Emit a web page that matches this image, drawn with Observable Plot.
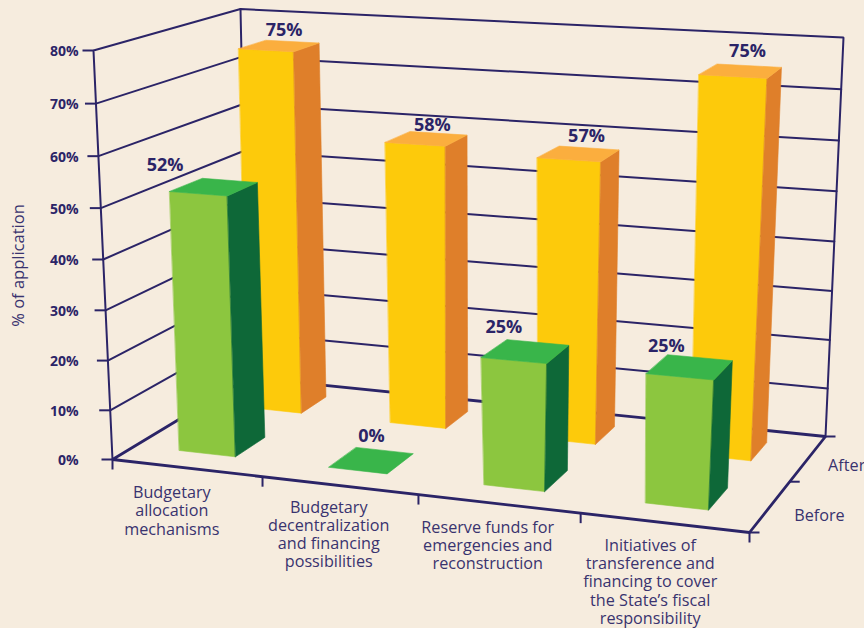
<!DOCTYPE html>
<html><head><meta charset="utf-8">
<script src="https://cdn.jsdelivr.net/npm/d3@7"></script>
<script src="https://cdn.jsdelivr.net/npm/@observablehq/plot@0.6"></script>
<style>html,body{margin:0;padding:0;background:#f6ecde;overflow:hidden}svg{display:block}</style>
</head><body><div id="chart"></div>
<script>
const categories = ["Budgetary\nallocation\nmechanisms","Budgetary\ndecentralization\nand financing\npossibilities","Reserve funds for\nemergencies and\nreconstruction","Initiatives of\ntransference and\nfinancing to cover\nthe State’s fiscal\nresponsibility"];
const before = [52, 0, 25, 25];
const after = [75, 58, 57, 75];
const yTicks = [0,10,20,30,40,50,60,70,80];
const seriesNames = ["Before","After"];

// Layout of the 3D box
const W = 864, H = 628, VMAX = 80, UMAX = 4, WMAX = 2;
const floorQuad = [[112,459],[749,532],[825,436],[248,377]];
const topQuad = [[93,50],[768,95],[843,37],[240,8.5]];
const perspV = 1.045, topWarp = 0.08;
const INK = "#2b2467", TXT = "#39336f";
const palettes = {
  Before:{front:"#8cc63f",side:"#0e6838",top:"#39b54a"},
  After:{front:"#fdca0b",side:"#df7f2a",top:"#fbae3e"}
};
const depth = {Before:[0.31,0.75],After:[1.33,1.74]};
const barU = [0.30,0.68];
const topNudge = {leftFront:3,rightFront:6.5,leftBack:3,rightBack:4};
const nudgeScale = {Before:[1,1,1,0.4],After:[0.6,1,1,0.7]};
const labelOffset = {Before:[[-49,-21.5],[0,-24.5],[-22,-24.5],[-26,-21]],After:[[3,-16],[5,-13.5],[7,-18],[5,-20]]};
const catOffset = [[-15,17],[-11,14],[-11,16],[-14,15]];

function homography(q){
  const [[x0,y0],[x1,y1],[x2,y2],[x3,y3]] = q;
  const dx1=x1-x2,dx2=x3-x2,sx=x0-x1+x2-x3,dy1=y1-y2,dy2=y3-y2,sy=y0-y1+y2-y3;
  const den=dx1*dy2-dx2*dy1,g=(sx*dy2-dx2*sy)/den,h=(dx1*sy-sx*dy1)/den;
  const a=x1-x0+g*x1,b=x3-x0+h*x3,d=y1-y0+g*y1,e=y3-y0+h*y3;
  return (s,t)=>{const k=g*s+h*t+1;return [(a*s+b*t+x0)/k,(d*s+e*t+y0)/k];};
}
const hFloor = homography(floorQuad), hTop = homography(topQuad);
function project(u,v,w){
  const t0=v/VMAX, t=t0/(t0+(1-t0)*perspV);
  const uTop = u + topWarp*Math.sin(Math.PI*u/UMAX)*Math.min(w,1.55)/1.55*(w<WMAX?1:0);
  const p=hFloor(u/UMAX,w/WMAX), q=hTop(uTop/UMAX,w/WMAX);
  return [p[0]+(q[0]-p[0])*t, p[1]+(q[1]-p[1])*t];
}
const pts = (id,list,extra={}) => list.map(([u,v,w])=>{const [x,y]=project(u,v,w);return {id,x,y,...extra};});

// Grid
const grid = yTicks.filter(v=>v>0&&v<VMAX).flatMap(v=>pts("g"+v,[[0,v,0],[0,v,WMAX],[UMAX,v,WMAX]]));
const frame = [
  ...pts("f1",[[0,0,0],[0,VMAX,0],[0,VMAX,WMAX],[UMAX,VMAX,WMAX],[UMAX,0,WMAX]]),
  ...pts("f2",[[0,0,WMAX],[0,VMAX,WMAX]])
];
const floor = pts("b",[[0,0,WMAX],[0,0,0],[UMAX,0,0],[UMAX,0,WMAX],[0,0,WMAX]]);

// Ticks, computed from the projection
const tickRows = [
  ...yTicks.map(v=>{const [x,y]=project(0,v,0);return {x1:x,y1:y,x2:x-11,y2:y};}),
  ...d3.range(0,UMAX+1).map(u=>{const [x,y]=project(u,0,0);return {x1:x,y1:y,x2:x,y2:y+10};}),
  ...[0,1,2].map(w=>{const [x,y]=project(UMAX,0,w);return {x1:x,y1:y,x2:x+10,y2:y};})
];

// Bars
const faces = [], valueLabels = [];
[["After",after],["Before",before]].forEach(([name,vals])=>{
  const [w0,w1]=depth[name], c=palettes[name];
  vals.forEach((val,i)=>{
    const u0=i+barU[0],u1=i+barU[1];
    const corner=(u,v,w)=>{
      const [x,y]=project(u,v,w);
      if(v===0) return [x,y];
      const n = w===w0 ? (u===u0?topNudge.leftFront:topNudge.rightFront) : (u===u0?topNudge.leftBack:topNudge.rightBack);
      return [x+n*nudgeScale[name][i],y];
    };
    const poly=(f,list)=>faces.push(...list.map(([u,v,w])=>{const [x,y]=corner(u,v,w);return {id:`${name}-${i}-${f}`,x,y,color:c[f]};}));
    if(val>0){
      poly("front",[[u0,0,w0],[u1,0,w0],[u1,val,w0],[u0,val,w0]]);
      poly("side",[[u1,0,w0],[u1,0,w1],[u1,val,w1],[u1,val,w0]]);
    }
    poly("top",[[u0,val,w0],[u1,val,w0],[u1,val,w1],[u0,val,w1]]);
    const [cx,cy]=project((u0+u1)/2,val,(w0+w1)/2), [ox,oy]=labelOffset[name][i];
    valueLabels.push({x:cx+ox+(val?4:0),y:cy+oy,text:val+"%"});
  });
});

// Text rows
const catRows = categories.map((text,i)=>{const [x,y]=project(i+0.5,0,0);return {x:x+catOffset[i][0],y:y+catOffset[i][1],text};});
const yRows = yTicks.map(v=>({v,y:project(0,v,0)[1]+1,text:v+"%"}));
const depthRows = seriesNames.map((text,i)=>{const [x,y]=project(UMAX,0,i+0.5);return {x:x+(i?20:24),y:y+(i?7:9),text};});

const FONT = "'Open Sans', sans-serif";
const chart = Plot.plot({
  width:W,height:H,margin:0,
  x:{domain:[0,W],range:[0,W],axis:null},
  y:{domain:[0,H],range:[0,H],axis:null},
  color:{type:"identity"},
  style:{background:"#f6ecde",fontFamily:FONT},
  marks:[
    Plot.line(grid,{x:"x",y:"y",z:"id",stroke:INK,strokeWidth:2,strokeLinejoin:"miter"}),
    Plot.line(frame,{x:"x",y:"y",z:"id",stroke:INK,strokeWidth:2,strokeLinejoin:"miter"}),
    Plot.line(floor,{x:"x",y:"y",z:"id",stroke:INK,strokeWidth:2.8,strokeLinejoin:"miter"}),
    Plot.link(tickRows,{x1:"x1",y1:"y1",x2:"x2",y2:"y2",stroke:INK,strokeWidth:2}),
    Plot.line(faces,{x:"x",y:"y",z:"id",fill:"color",stroke:"color",strokeWidth:0.6,curve:"linear-closed"}),
    Plot.text(valueLabels,{x:"x",y:"y",text:"text",fill:INK,fontSize:18,fontWeight:700}),
    Plot.text(yRows,{x:()=>78,y:"y",text:"text",textAnchor:"end",fill:INK,fontSize:14,fontWeight:700}),
    Plot.text(catRows,{x:"x",y:"y",text:"text",lineAnchor:"top",lineHeight:1.13,fill:TXT,fontSize:16.2}),
    Plot.text(depthRows,{x:"x",y:"y",text:"text",textAnchor:"start",fill:TXT,fontSize:16.2}),
    Plot.text(["% of application"],{x:()=>18,y:()=>265,text:d=>d,rotate:-90,fill:TXT,fontSize:16.5})
  ]
});
document.getElementById("chart").append(chart);
</script></body></html>
